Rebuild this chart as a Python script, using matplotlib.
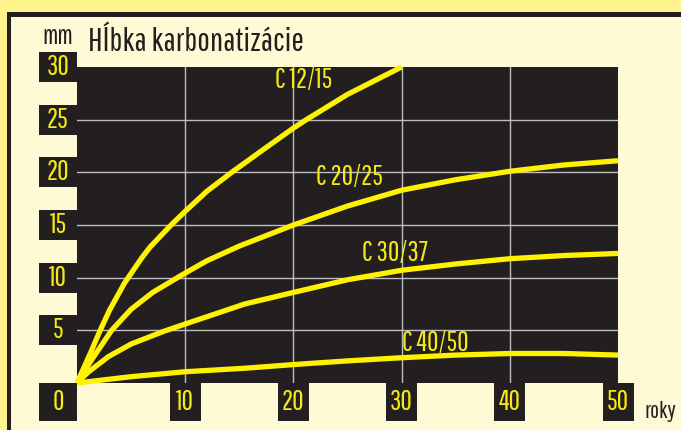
import matplotlib
matplotlib.use("Agg")
import matplotlib.pyplot as plt
from matplotlib.patches import Rectangle
from matplotlib.transforms import IdentityTransform

plt.rcParams['font.family'] = ['Pathway Gothic One', 'DejaVu Sans']

# data (years -> mm)
t_1215 = [0, 1.35, 2.1, 3, 4.4, 6, 6.75, 8.6, 10, 12, 14.3, 17, 20, 21.2, 25, 30]
d_1215 = [0, 3.1, 4.9, 6.9, 9.5, 11.9, 12.9, 14.9, 16.3, 18.2, 20, 22.0, 24.2, 25, 27.4, 30]

t_2025 = [0, 1.35, 3.2, 5, 7, 9.6, 12, 15, 20, 25, 30, 35, 40, 45, 50]
d_2025 = [0, 2.2, 5, 7.0, 8.6, 10.2, 11.6, 13.0, 15, 16.8, 18.3, 19.3, 20.1, 20.7, 21.1]

t_3037 = [0, 1, 2.9, 5, 8, 10, 15.5, 20, 25, 30, 35, 40, 45, 50]
d_3037 = [0, 1.0, 2.5, 3.7, 4.9, 5.6, 7.5, 8.6, 9.8, 10.7, 11.3, 11.8, 12.1, 12.3]

t_4050 = [0, 5, 10, 15.5, 20, 25, 30, 35, 40, 45, 50]
d_4050 = [0, 0.6, 1.07, 1.4, 1.75, 2.1, 2.4, 2.65, 2.8, 2.8, 2.65]

labels = ['C 12/15', 'C 20/25', 'C 30/37', 'C 40/50']
label_pos = [(18.3, 28.8), (22.1, 19.6), (26.3, 12.35), (30.0, 3.8)]

x_ticks = [0, 10, 20, 30, 40, 50]
y_ticks = [0, 5, 10, 15, 20, 25, 30]

BLACK = '#231f20'
YELLOW = '#fff200'
TXT_Y = '#f5ea14'
CREAM = '#fffad6'
OUTER = '#fff48c'

W, H = 681, 430
fig = plt.figure(figsize=(W / 100, H / 100), dpi=100, facecolor=OUTER)

def px(x, y, w, h, **kw):
    # rectangle given in pixels, top-left origin
    fig.patches.append(Rectangle((x, H - y - h), w, h, transform=IdentityTransform(),
                                 figure=fig, **kw))

px(7, 12, W, H, facecolor=BLACK, edgecolor='none', zorder=-2)
px(11, 17, W, H, facecolor=CREAM, edgecolor='none', zorder=-1)

ax_l, ax_t, ax_r, ax_b = 77, 67, 618, 383
ax = fig.add_axes([ax_l / W, 1 - ax_b / H, (ax_r - ax_l) / W, (ax_b - ax_t) / H])
ax.set_zorder(0)
ax.set_facecolor(BLACK)
ax.set_xlim(0, 50)
ax.set_ylim(0, 30)
ax.set_xticks(x_ticks[1:-1])
ax.set_yticks(y_ticks[1:-1])
ax.tick_params(length=0, labelbottom=False, labelleft=False)
ax.grid(True, color='#bcbec0', linewidth=1.0)
for s in ax.spines.values():
    s.set_visible(False)

for t, d in [(t_1215, d_1215), (t_2025, d_2025), (t_3037, d_3037), (t_4050, d_4050)]:
    ax.plot(t, d, color=YELLOW, linewidth=3.8, solid_capstyle='butt',
            solid_joinstyle='round', clip_on=False, zorder=3)

for lab, (lx, ly) in zip(labels, label_pos):
    ax.text(lx, ly, lab, color=TXT_Y, fontsize=20, ha='left', va='center', zorder=4)

# tick label boxes
def to_px(xv, yv):
    X, Y = ax.transData.transform((xv, yv))
    return X, H - Y

for v in y_ticks[1:]:
    _, yp = to_px(0, v)
    px(39, yp - 15, 38, 30, facecolor=BLACK, edgecolor='none', zorder=2)
    fig.text(58 / W, 1 - yp / H, str(v), color=TXT_Y, fontsize=20, ha='center', va='center')

px(39, 383, 38, 38, facecolor=BLACK, edgecolor='none', zorder=2)
fig.text(58 / W, 1 - 402 / H, '0', color=TXT_Y, fontsize=20, ha='center', va='center')

for v in x_ticks[1:]:
    xp, _ = to_px(v, 0)
    px(xp - 15.5, 383, 31, 38, facecolor=BLACK, edgecolor='none', zorder=2)
    fig.text(xp / W, 1 - 402 / H, str(v), color=TXT_Y, fontsize=20, ha='center', va='center')

fig.text(42 / W, 1 - 36 / H, 'mm', color=BLACK, fontsize=19, ha='left', va='center')
fig.text(88 / W, 1 - 42 / H, 'Hĺbka karbonatizácie', color=BLACK, fontsize=24,
         ha='left', va='center')
fig.text(645 / W, 1 - 411 / H, 'roky', color=BLACK, fontsize=17, ha='left', va='center')

fig.savefig('out.png', dpi=100, facecolor=OUTER)
